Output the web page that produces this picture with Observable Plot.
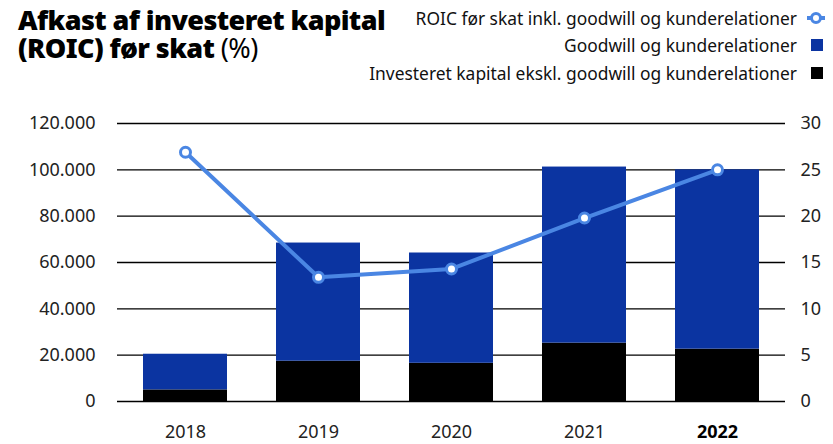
<!DOCTYPE html>
<html><head><meta charset="utf-8">
<script src="https://cdn.jsdelivr.net/npm/d3@7"></script>
<script src="https://cdn.jsdelivr.net/npm/@observablehq/plot@0.6"></script>
<style>
body{margin:0;background:#fff;font-family:"Noto Sans",sans-serif;}
#wrap{position:relative;width:833px;height:444px;overflow:hidden;}
.tline{position:absolute;left:18px;font-size:27px;font-weight:900;line-height:28px;color:#000;letter-spacing:-0.6px;white-space:nowrap;}
#legend{position:absolute;right:7px;top:4px;font-size:17.4px;color:#111;}
.item{display:flex;justify-content:flex-end;align-items:center;gap:9px;height:27.5px;white-space:nowrap;}
#chart{position:absolute;left:0;top:100px;}
</style></head>
<body>
<div id="wrap">
<div class="tline" style="top:5.5px">Afkast af investeret kapital</div>
<div class="tline" style="top:33.5px">(ROIC) før skat <span style="font-weight:400">(%)</span></div>
<div id="legend"></div>
<div id="chart"></div>
</div>
<script>
const years = ["2018", "2019", "2020", "2021", "2022"];
const investeret = [5000, 17400, 16500, 25200, 22600];
const goodwill = [15400, 51000, 47600, 76000, 77400];
const roic = [26.9, 13.4, 14.3, 19.8, 25.0];
const leftTicks = [0, 20000, 40000, 60000, 80000, 100000, 120000];
const rightTicks = [0, 5, 10, 15, 20, 25, 30];
const seriesNames = {
  roic: "ROIC før skat inkl. goodwill og kunderelationer",
  gw: "Goodwill og kunderelationer",
  inv: "Investeret kapital ekskl. goodwill og kunderelationer"
};
const colors = {roic: "#4a86e3", gw: "#0b34a1", inv: "#000000"};

const k = 120000 / 30;
const fmt = d3.formatLocale({decimal: ",", thousands: ".", grouping: [3], currency: ["", ""]}).format(",");

const barData = years.flatMap((y, i) => [
  {year: y, series: "inv", value: investeret[i]},
  {year: y, series: "gw", value: goodwill[i]}
]);
const lineData = years.map((y, i) => ({year: y, roic: roic[i]}));

const chart = Plot.plot({
  width: 833, height: 344,
  marginLeft: 117, marginRight: 48, marginTop: 23, marginBottom: 43,
  x: {domain: years, paddingInner: 0.37, paddingOuter: 0.185, label: null},
  y: {domain: [0, 120000], label: null},
  color: {domain: ["inv", "gw"], range: [colors.inv, colors.gw]},
  style: {fontFamily: "Noto Sans", fontSize: "18px", color: "#222", background: "#fff"},
  marks: [
    Plot.ruleY(leftTicks, {stroke: "#000", strokeWidth: 1.3}),
    Plot.barY(barData, {x: "year", y: "value", fill: "series"}),
    Plot.line(lineData, {x: "year", y: d => d.roic * k, stroke: colors.roic, strokeWidth: 4}),
    Plot.dot(lineData, {x: "year", y: d => d.roic * k, r: 5, fill: "#fff", stroke: colors.roic, strokeWidth: 3}),
    Plot.axisY({ticks: leftTicks, tickSize: 0, tickPadding: 22, tickFormat: fmt, label: null}),
    Plot.axisY({anchor: "right", ticks: rightTicks.map(v => v * k), tickSize: 0, tickPadding: 15, tickFormat: d => d / k, label: null}),
    Plot.axisX({ticks: years.slice(0, 4), tickSize: 0, tickPadding: 24, label: null}),
    Plot.axisX({ticks: years.slice(4), tickSize: 0, tickPadding: 24, fontWeight: "bold", fill: "#000", label: null})
  ]
});
document.getElementById("chart").appendChild(chart);

const legend = document.getElementById("legend");
const markers = {
  roic: `<svg width="20" height="14"><line x1="1" y1="7" x2="19" y2="7" stroke="${colors.roic}" stroke-width="4"/><circle cx="10" cy="7" r="4.5" fill="#fff" stroke="${colors.roic}" stroke-width="3"/></svg>`,
  gw: `<svg width="20" height="14"><rect x="5" y="1" width="12" height="12" fill="${colors.gw}"/></svg>`,
  inv: `<svg width="20" height="14"><rect x="5" y="1" width="12" height="12" fill="${colors.inv}"/></svg>`
};
for (const key of ["roic", "gw", "inv"]) {
  const div = document.createElement("div");
  div.className = "item";
  div.innerHTML = `<span>${seriesNames[key]}</span>${markers[key]}`;
  legend.appendChild(div);
}
</script>
</body></html>
